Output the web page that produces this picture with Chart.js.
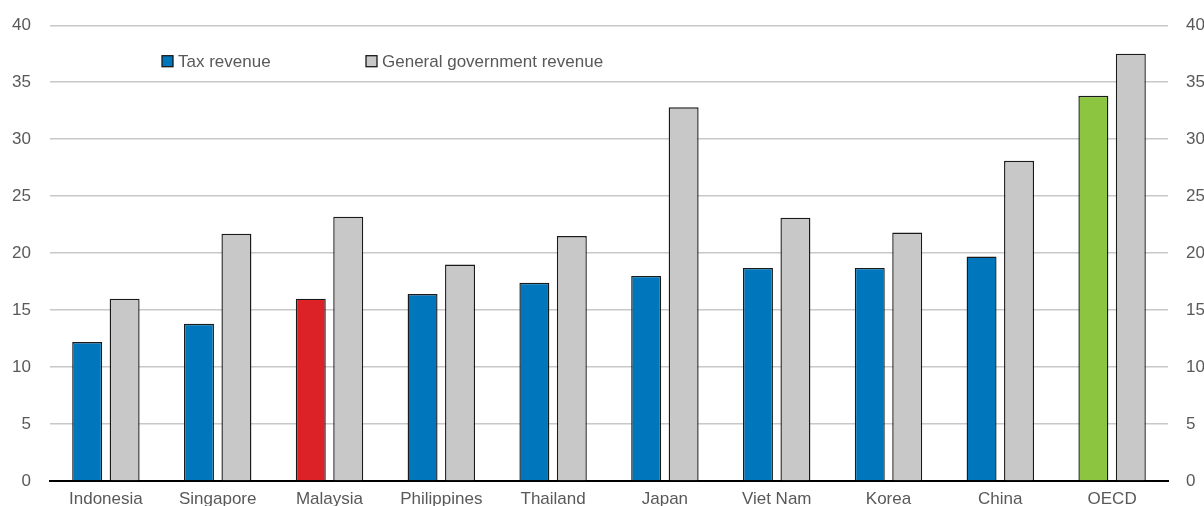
<!DOCTYPE html>
<html>
<head>
<meta charset="utf-8">
<script src="https://cdn.jsdelivr.net/npm/chart.js@4/dist/chart.umd.min.js"></script>
<style>
  html, body { margin: 0; padding: 0; background: #fff; overflow: hidden; }
  #wrap { width: 1204px; height: 526px; position: relative; top: -4px; }
</style>
</head>
<body>
<div id="wrap"><canvas id="c"></canvas></div>
<script>
// Revenue as % of GDP
const countries = ['Indonesia', 'Singapore', 'Malaysia', 'Philippines', 'Thailand', 'Japan', 'Viet Nam', 'Korea', 'China', 'OECD'];
const taxRevenue = [12.2, 13.8, 16.0, 16.4, 17.4, 18.0, 18.7, 18.7, 19.7, 33.8];
const generalGovRevenue = [16.0, 21.7, 23.2, 19.0, 21.5, 32.8, 23.1, 21.8, 28.1, 37.5];
const yTicks = [0, 5, 10, 15, 20, 25, 30, 35, 40];

const BLUE = '#0077bd', RED = '#dc2127', GREEN = '#8cc540', GREY = '#c8c8c8';
const taxColors = countries.map(c => c === 'Malaysia' ? RED : (c === 'OECD' ? GREEN : BLUE));

const FONT = { family: "'Liberation Sans', Arial, sans-serif", size: 17 };
const TEXT = '#595959';

// Legend drawn inside the plot area, near the top
const insideLegend = {
  id: 'insideLegend',
  afterDraw(chart) {
    const ctx = chart.ctx;
    const items = [
      { x: 162, fill: BLUE, label: chart.data.datasets[0].label },
      { x: 366, fill: GREY, label: chart.data.datasets[1].label }
    ];
    const cy = chart.chartArea.top + 36;
    ctx.save();
    ctx.font = FONT.size + 'px ' + FONT.family;
    ctx.textBaseline = 'middle';
    ctx.textAlign = 'left';
    items.forEach(it => {
      ctx.fillStyle = it.fill;
      ctx.fillRect(it.x, cy - 5.5, 11, 11);
      ctx.strokeStyle = '#1a1a1a';
      ctx.lineWidth = 1.3;
      ctx.strokeRect(it.x, cy - 5.5, 11, 11);
      ctx.fillStyle = TEXT;
      ctx.fillText(it.label, it.x + 16, cy + 1);
    });
    ctx.restore();
  }
};

new Chart(document.getElementById('c'), {
  type: 'bar',
  data: {
    labels: countries,
    datasets: [
      {
        label: 'Tax revenue',
        data: taxRevenue,
        backgroundColor: taxColors,
        borderColor: '#1a1a1a',
        borderWidth: 1.4,
        barPercentage: 0.8,
        categoryPercentage: 0.67
      },
      {
        label: 'General government revenue',
        data: generalGovRevenue,
        backgroundColor: GREY,
        borderColor: '#1a1a1a',
        borderWidth: 1.4,
        barPercentage: 0.8,
        categoryPercentage: 0.67
      }
    ]
  },
  options: {
    responsive: true,
    maintainAspectRatio: false,
    animation: false,
    layout: { padding: { top: 12, left: 0, right: 0, bottom: 0 } },
    plugins: {
      legend: { display: false },
      tooltip: { enabled: false }
    },
    scales: {
      x: {
        grid: { display: false, drawTicks: false },
        border: { display: true, color: '#000', width: 2 },
        ticks: { color: TEXT, font: FONT, padding: 8, maxRotation: 0, autoSkip: false },
        afterFit(s) { s.height = 41; }
      },
      y: {
        position: 'left',
        min: 0, max: 40,
        afterBuildTicks(s) { s.ticks = yTicks.map(v => ({ value: v })); },
        grid: { color: '#c8c8c8', lineWidth: 1.4, drawTicks: false },
        border: { display: false },
        ticks: { color: TEXT, font: FONT, padding: 19 },
        afterFit(s) { s.width = 50; }
      },
      y2: {
        position: 'right',
        min: 0, max: 40,
        afterBuildTicks(s) { s.ticks = yTicks.map(v => ({ value: v })); },
        grid: { display: false, drawTicks: false },
        border: { display: false },
        ticks: { color: TEXT, font: FONT, padding: 18 },
        afterFit(s) { s.width = 36; }
      }
    }
  },
  plugins: [insideLegend]
});
</script>
</body>
</html>
